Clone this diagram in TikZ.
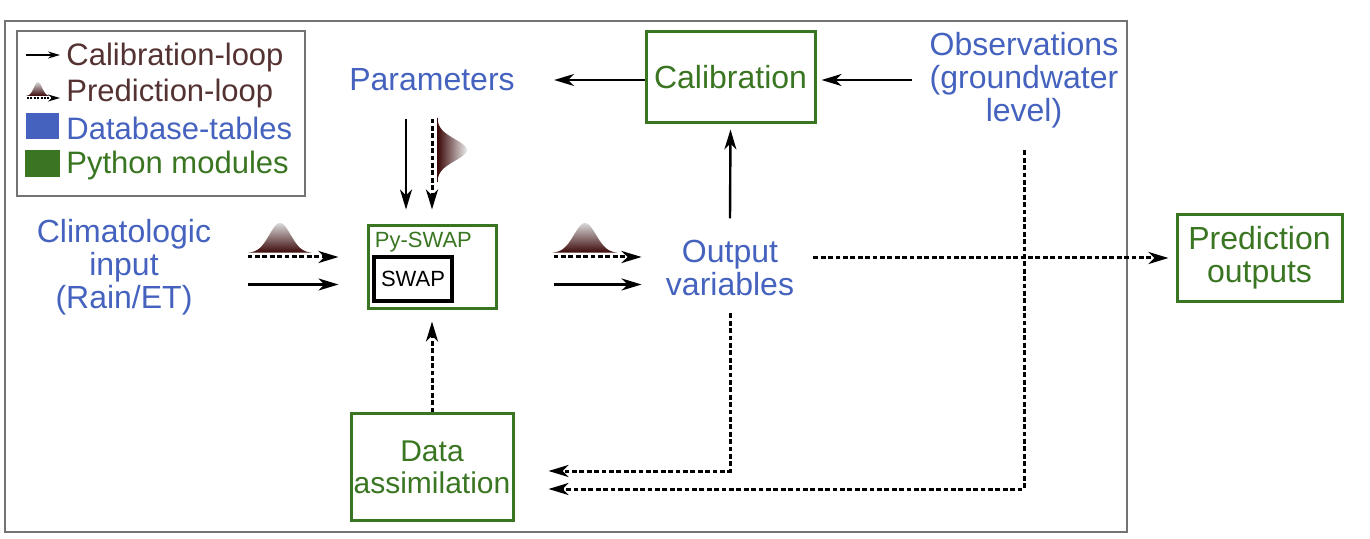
\documentclass[tikz,border=0pt]{standalone}
\usepackage{fontspec}
\setmainfont{Liberation Sans}
\usetikzlibrary{arrows.meta}
\definecolor{dbblue}{RGB}{68,98,190}
\definecolor{pygreen}{RGB}{58,118,34}
\definecolor{loopbrown}{RGB}{85,50,50}
\definecolor{bellbrown}{RGB}{60,8,8}
\tikzset{
  module/.style={draw=pygreen, line width=1.5pt, text=pygreen, align=center, inner sep=0pt},
  dbtext/.style={text=dbblue, align=center, inner sep=0pt},
  legtext/.style={anchor=west, inner sep=0pt, font=\fontsize{15.5}{18}\selectfont},
  calarrow/.style={line width=1.2pt, -{Stealth[length=10pt,width=6pt,inset=3pt]}},
  predarrow/.style={calarrow, line width=1.5pt, dash pattern=on 2.4pt off 1.3pt},
  legarrow/.style={line width=0.85pt, -{Stealth[length=6pt,width=3.5pt,inset=2pt]}},
}
% bell curves: centre, base, half width, height
\newcommand{\bellup}[4]{\shade[top color=black!15, bottom color=bellbrown]
  plot[domain=-1:1, samples=41, smooth] ({#1+#3*\x},{#2-#4*exp(-4.5*\x*\x)}) -- cycle;}
\newcommand{\bellright}[4]{\shade[left color=bellbrown, right color=black!8]
  plot[domain=-1:1, samples=41, smooth] ({#1+#4*exp(-4.5*\x*\x)},{#2+#3*\x}) -- cycle;}
\begin{document}
\begin{tikzpicture}[x=0.5pt, y=-0.5pt, font=\fontsize{16}{16.5}\selectfont]
\useasboundingbox (0,0) rectangle (1370,539);
\draw[black!55, line width=1pt] (5,21) rectangle (1127,532);

% legend
\draw[black!55, line width=1pt] (17,31) rectangle (305,196);
\node[legtext, text=loopbrown] (legcal) at (66,57) {Calibration-loop};
\node[legtext, text=loopbrown] (legpred) at (66,93) {Prediction-loop};
\node[legtext, text=dbblue] (legdb) at (66,128) {Database-tables};
\node[legtext, text=pygreen] (legpy) at (66,165) {Python modules};
\coordinate (legcalstart) at (26,55);
\coordinate (legpredstart) at (27,98);
\draw[legarrow] (legcalstart) -- ([shift={(-3pt,1pt)}]legcal.west);
\bellup{38}{96}{12}{14}
\draw[legarrow, dash pattern=on 1pt off 0.7pt] (legpredstart) -- ([shift={(-3pt,-2.5pt)}]legpred.west);
\fill[dbblue] (26,113) rectangle (59,139);
\fill[pygreen] (25,150) rectangle (60,177);

% blocks
\node[dbtext] (params) at (432,80) {Parameters};
\node[module, minimum width=84.5pt, minimum height=45.5pt] (calib) at (730.5,77.5) {Calibration};
\node[dbtext] (obs) at (1024,80) {Observations\\(groundwater\\level)};
\node[dbtext] (clim) at (124,267.5) {Climatologic\\input\\(Rain/ET)};
\node[module, minimum width=64pt, minimum height=41.5pt] (pyswap) at (432,267.5) {};
\node[anchor=north west, text=pygreen, inner sep=0pt, font=\fontsize{11}{12}\selectfont] (pylabel)
  at ([shift={(4pt,-3.5pt)}]pyswap.north west) {Py-SWAP};
\node[draw, line width=2pt, minimum width=39pt, minimum height=22pt, inner sep=0pt,
  font=\fontsize{11}{12}\selectfont] (swap) at (413,279) {SWAP};
\node[dbtext] (outvar) at (730,267.5) {Output\\variables};
\node[module, minimum width=81pt, minimum height=53pt, font=\fontsize{15}{16}\selectfont] (dassim)
  at (432,467) {Data\\assimilation};
\node[module, minimum width=82.5pt, minimum height=43.5pt] (pred) at (1259.5,258) {Prediction\\outputs};

% calibration loop
\draw[calarrow] ([yshift=-1.25pt]calib.west) -- ([xshift=19.5pt]params.east);
\draw[calarrow] ([xshift=-8.5pt]obs.west) -- ([shift={(2.5pt,-1.25pt)}]calib.east);
\draw[calarrow] ([shift={(-13pt,-13.5pt)}]params.south) -- ([shift={(-13pt,7.5pt)}]pyswap.north);
\draw[calarrow] ([shift={(18pt,-8.5pt)}]clim.east) -- ([shift={(-14pt,-8.5pt)}]pyswap.west);
\draw[calarrow] ([shift={(28pt,-8.5pt)}]pyswap.east) -- ([shift={(-12pt,-8.5pt)}]outvar.west);
\draw[calarrow] ([yshift=10.5pt]outvar.north) -- ([yshift=-2.5pt]calib.south);

% prediction loop
\bellright{437}{150}{32}{30}
\bellup{280}{253}{32}{30}
\bellup{585}{253}{33}{30}
\draw[predarrow] ([yshift=-13.5pt]params.south) -- ([yshift=7.5pt]pyswap.north);
\draw[predarrow] ([shift={(18pt,5.25pt)}]clim.east) -- ([shift={(-14pt,5.25pt)}]pyswap.west);
\draw[predarrow] ([shift={(28pt,5.25pt)}]pyswap.east) -- ([shift={(-12pt,5.25pt)}]outvar.west);
\draw[predarrow] ([shift={(9.5pt,4.75pt)}]outvar.east) -- ([xshift=-3.5pt]pred.west);
\draw[predarrow] ([yshift=-8.8pt]outvar.south) |- ([shift={(17pt,-2pt)}]dassim.east);
\draw[predarrow] ([yshift=-11pt]obs.south) |- ([shift={(17pt,-11pt)}]dassim.east);
\draw[predarrow] (dassim.north) -- ([yshift=-5.5pt]pyswap.south);
\end{tikzpicture}
\end{document}
